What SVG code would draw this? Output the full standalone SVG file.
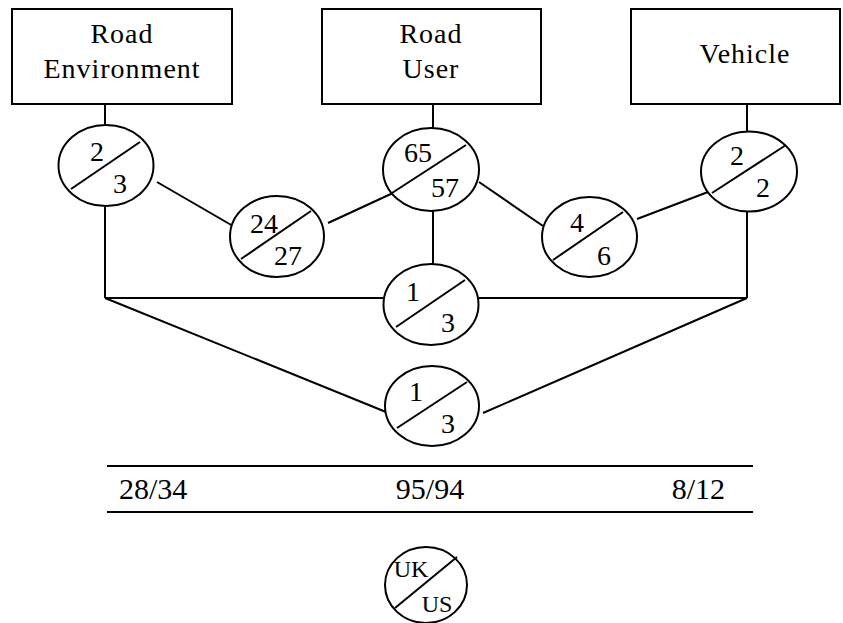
<svg xmlns="http://www.w3.org/2000/svg" width="843" height="623" viewBox="0 0 843 623">
<style>
  .box { fill: #fff; stroke: #000; stroke-width: 2; }
  .node { fill: #fff; stroke: #000; stroke-width: 2; }
  .slash { stroke: #000; stroke-width: 2; fill: none; }
  .conn line { stroke: #000; stroke-width: 2; }
  .rule { stroke: #000; stroke-width: 2.2; }
  .lbl { font-size: 28px; letter-spacing: 1px; text-anchor: middle; }
  .num { font-size: 28px; text-anchor: middle; }
  .tot { font-size: 30px; }
  .key { font-size: 24px; text-anchor: middle; }
</style>
<rect width="843" height="623" fill="#fff"/>

<g id="connectors" class="conn">
  <line x1="105" y1="104" x2="105" y2="125"/>
  <line x1="433" y1="104" x2="433" y2="128"/>
  <line x1="747" y1="104" x2="747" y2="131"/>
  <line x1="157" y1="182" x2="233" y2="226"/>
  <line x1="328" y1="223" x2="393" y2="193"/>
  <line x1="479" y1="182" x2="543" y2="226"/>
  <line x1="637" y1="219" x2="708" y2="192"/>
  <line x1="433" y1="211" x2="433" y2="264"/>
  <line x1="105" y1="206" x2="105" y2="298"/>
  <line x1="747" y1="211" x2="747" y2="298"/>
  <line x1="105" y1="298" x2="384" y2="298"/>
  <line x1="479" y1="298" x2="747" y2="298"/>
  <line x1="105" y1="298" x2="386" y2="412"/>
  <line x1="483" y1="413" x2="747" y2="298"/>
</g>

<g font-family="Liberation Serif, Times New Roman, serif" fill="#000">
<g id="box-road-environment">
  <rect class="box" x="12" y="9" width="220" height="95"/>
  <text class="lbl" x="122" y="43">Road</text>
  <text class="lbl" x="122" y="78">Environment</text>
</g>
<g id="box-road-user">
  <rect class="box" x="322" y="9" width="219" height="95"/>
  <text class="lbl" x="431" y="43">Road</text>
  <text class="lbl" x="431" y="78">User</text>
</g>
<g id="box-vehicle">
  <rect class="box" x="631" y="9" width="209" height="95"/>
  <text class="lbl" x="745" y="63">Vehicle</text>
</g>

<g id="node-env">
  <ellipse class="node" cx="106" cy="165.5" rx="47.5" ry="40.5"/>
  <line class="slash" x1="71" y1="189" x2="140" y2="142"/>
  <text class="num" x="97" y="161">2</text>
  <text class="num" x="120" y="193">3</text>
</g>
<g id="node-env-user">
  <ellipse class="node" cx="277" cy="236.5" rx="47" ry="40.5"/>
  <line class="slash" x1="241" y1="259" x2="311" y2="211"/>
  <text class="num" x="264" y="233">24</text>
  <text class="num" x="288" y="265">27</text>
</g>
<g id="node-user">
  <ellipse class="node" cx="431" cy="169.5" rx="48" ry="41.5"/>
  <line class="slash" x1="392" y1="193" x2="466" y2="145"/>
  <text class="num" x="418" y="162">65</text>
  <text class="num" x="445" y="197">57</text>
</g>
<g id="node-user-vehicle">
  <ellipse class="node" cx="589.5" cy="237" rx="47.5" ry="40"/>
  <line class="slash" x1="553" y1="260" x2="623" y2="212"/>
  <text class="num" x="577" y="232">4</text>
  <text class="num" x="604" y="265">6</text>
</g>
<g id="node-vehicle">
  <ellipse class="node" cx="749" cy="171.5" rx="48" ry="40"/>
  <line class="slash" x1="712" y1="193" x2="786" y2="145"/>
  <text class="num" x="737" y="165">2</text>
  <text class="num" x="763" y="197">2</text>
</g>
<g id="node-all-upper">
  <ellipse class="node" cx="431" cy="304.5" rx="47.5" ry="40.5"/>
  <line class="slash" x1="396" y1="327" x2="465" y2="280"/>
  <text class="num" x="413" y="301">1</text>
  <text class="num" x="448" y="332">3</text>
</g>
<g id="node-all-lower">
  <ellipse class="node" cx="432" cy="406" rx="47" ry="40"/>
  <line class="slash" x1="397" y1="428" x2="467" y2="382"/>
  <text class="num" x="416" y="401">1</text>
  <text class="num" x="448" y="433">3</text>
</g>

<g id="totals">
  <line class="rule" x1="107" y1="466" x2="753" y2="466"/>
  <line class="rule" x1="107" y1="512" x2="753" y2="512"/>
  <text class="tot" x="119" y="499">28/34</text>
  <text class="tot" x="430" y="499" text-anchor="middle">95/94</text>
  <text class="tot" x="725" y="499" text-anchor="end">8/12</text>
</g>

<g id="legend">
  <ellipse class="node" cx="426" cy="585" rx="41" ry="38"/>
  <line class="slash" x1="395" y1="608" x2="457" y2="557"/>
  <text class="key" x="411" y="577">UK</text>
  <text class="key" x="437" y="612">US</text>
</g>
</g>
</svg>
